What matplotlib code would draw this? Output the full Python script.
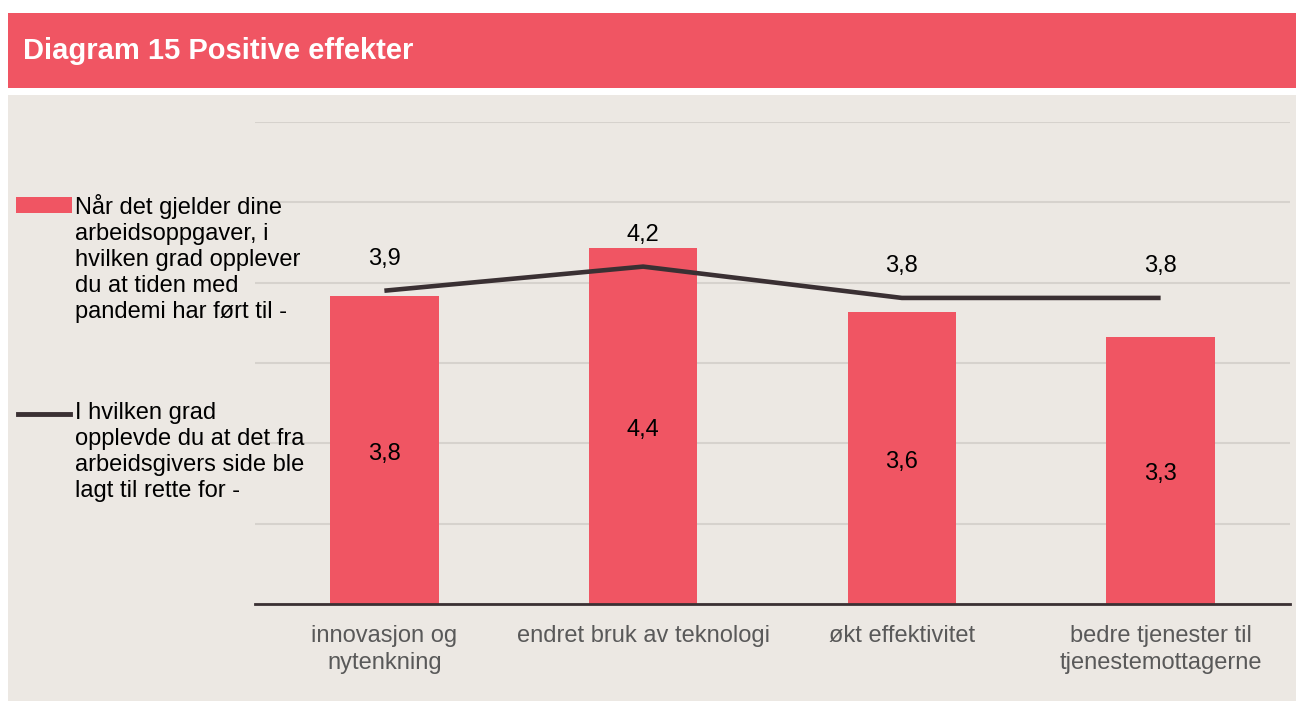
import matplotlib
matplotlib.use("Agg")
import matplotlib.pyplot as plt
from matplotlib.patches import Rectangle
from matplotlib.lines import Line2D

categories = ["innovasjon og\nnytenkning", "endret bruk av teknologi",
              "økt effektivitet", "bedre tjenester til\ntjenestemottagerne"]
bar_values = [3.83, 4.43, 3.63, 3.32]
line_values = [3.90, 4.20, 3.81, 3.81]
bar_name = "Når det gjelder dine\narbeidsoppgaver, i\nhvilken grad opplever\ndu at tiden med\npandemi har ført til -"
line_name = "I hvilken grad\nopplevde du at det fra\narbeidsgivers side ble\nlagt til rette for -"
title = "Diagram 15 Positive effekter"

RED = "#F05563"
BEIGE = "#ECE8E3"
DARK = "#3A3033"
GRID = "#D6D2CD"
TICK = "#595959"

plt.rcParams["font.family"] = ["Liberation Sans", "DejaVu Sans"]

W, H = 1296, 702
fig = plt.figure(figsize=(W / 100, H / 100), dpi=100)
fig.patch.set_facecolor("white")

def fx(x): return x / W
def fy(y): return 1 - y / H

FS = 17

def fmt(v):
    return f"{v:.1f}".replace(".", ",")

# banner
fig.patches.append(Rectangle((fx(8), fy(88)), 1 - fx(8), fy(13) - fy(88),
                             transform=fig.transFigure, facecolor=RED,
                             edgecolor="none", zorder=-2))
fig.text(fx(23), fy(51), title, color="white", fontsize=21, fontweight="bold",
         va="center", ha="left")
# beige panel
fig.patches.append(Rectangle((fx(8), fy(701)), 1 - fx(8), fy(95) - fy(701),
                             transform=fig.transFigure, facecolor=BEIGE,
                             edgecolor="none", zorder=-2))

ax = fig.add_axes([fx(255), fy(604), fx(1290) - fx(255), fy(122) - fy(604)])
ax.set_zorder(1)
ax.set_facecolor("none")
x = list(range(len(categories)))
ax.bar(x, bar_values, width=0.42, color=RED, zorder=2)
ax.plot(x, line_values, color=DARK, linewidth=3.3, zorder=3,
        solid_capstyle="butt")
ax.set_xlim(-0.5, 3.5)
ax.set_ylim(0, 6)
ax.set_yticks(range(0, 7))
ax.yaxis.grid(True, color=GRID, linewidth=1.5)
ax.set_axisbelow(True)
ax.tick_params(axis="y", length=0, labelleft=False)
ax.tick_params(axis="x", length=0, pad=15, labelsize=FS, labelcolor=TICK)
ax.set_xticks(x)
ax.set_xticklabels(categories, linespacing=1.3)
for s in ["top", "right", "left"]:
    ax.spines[s].set_visible(False)
ax.spines["bottom"].set_color(DARK)
ax.spines["bottom"].set_linewidth(2)
ax.spines["bottom"].set_zorder(4)

for xi, v in zip(x, bar_values):
    ax.annotate(fmt(v), (xi, v / 2), xytext=(0, -2.5),
                textcoords="offset points", ha="center", va="center",
                fontsize=FS, color="black", zorder=5)
for xi, v in zip(x, line_values):
    ax.annotate(fmt(v), (xi, v), xytext=(0, 23),
                textcoords="offset points", ha="center", va="center",
                fontsize=FS, color="black", zorder=5)

# legend (manual)
fig.patches.append(Rectangle((fx(16), fy(213)), fx(72) - fx(16), fy(197) - fy(213),
                             transform=fig.transFigure, facecolor=RED,
                             edgecolor="none"))
fig.text(fx(75), fy(194), bar_name, fontsize=FS, va="top", ha="left",
         color="black", linespacing=1.23)
fig.lines.append(Line2D([fx(18), fx(70)], [fy(414), fy(414)],
                        transform=fig.transFigure, color=DARK, linewidth=3.5))
fig.text(fx(75), fy(402), line_name, fontsize=FS, va="top", ha="left",
         color="black", linespacing=1.23)

fig.savefig("out.png", dpi=100)
